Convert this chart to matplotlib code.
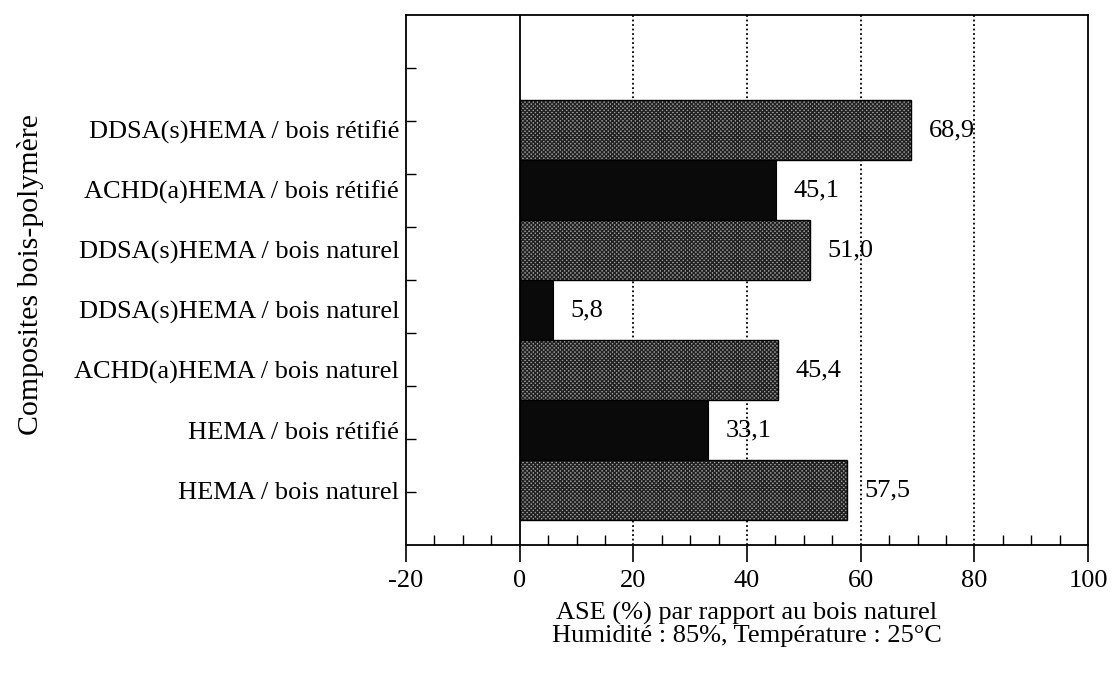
import matplotlib
matplotlib.use("Agg")
import matplotlib.pyplot as plt
import numpy as np

plt.rcParams["font.family"] = ["Liberation Serif", "DejaVu Serif"]
plt.rcParams["hatch.linewidth"] = 1.0

# data, bottom to top
labels = [
    "HEMA / bois naturel",
    "HEMA / bois rétifié",
    "ACHD(a)HEMA / bois naturel",
    "DDSA(s)HEMA / bois naturel",
    "DDSA(s)HEMA / bois naturel",
    "ACHD(a)HEMA / bois rétifié",
    "DDSA(s)HEMA / bois rétifié",
]
values = [57.5, 33.1, 45.4, 5.8, 51.0, 45.1, 68.9]
is_black = [False, True, False, True, False, True, False]

xlabel = "ASE (%) par rapport au bois naturel\nHumidité : 85%, Température : 25°C"
ylabel = "Composites bois-polymère"

fig = plt.figure(figsize=(11.16, 6.79), dpi=100)
ax = fig.add_axes([0.3638, 0.197, 0.975 - 0.3638, 0.978 - 0.197])

pos = np.arange(len(values))
ylo, yhi = -0.917, 7.917

# gridlines behind bars
for gx in [20, 40, 60, 80]:
    ax.axvline(gx, color="black", lw=1.3, ls=(0, (1, 1.5)), zorder=0)
ax.axvline(0, color="black", lw=1.3, zorder=1)

for p, v, blk in zip(pos, values, is_black):
    if blk:
        ax.barh(p, v, height=1.0, color="#0a0a0a", edgecolor="black", lw=0.8, zorder=2)
    else:
        ax.barh(p, v, height=1.0, color="#a0a0a0", edgecolor="#202020", lw=0,
                hatch="xxxxxxxx", zorder=2)
        ax.barh(p, v, height=1.0, fill=False, edgecolor="black", lw=1.0, zorder=3)
    ax.text(v + 3.1, p, f"{v:.1f}".replace(".", ","), va="center", ha="left",
            fontsize=19, zorder=4)

ax.set_xlim(-20, 100)
ax.set_ylim(ylo, yhi)

ax.set_xticks(np.arange(-20, 101, 20))
ax.set_xticks([x for x in np.arange(-20, 101, 5) if x % 20], minor=True)
ax.tick_params(axis="x", which="major", direction="out", length=12, width=1.2,
               labelsize=19, pad=6)
ax.tick_params(axis="x", which="minor", direction="in", length=7, width=1.0)
ax.set_xticklabels([str(x) for x in range(-20, 101, 20)])

ax.set_yticks(pos)
ax.set_yticklabels(labels)
ax.set_yticks(np.linspace(ylo, yhi, 11)[1:-1], minor=True)
ax.tick_params(axis="y", which="major", length=0, labelsize=19, pad=5)
ax.tick_params(axis="y", which="minor", direction="in", length=7, width=1.0)

for s in ax.spines.values():
    s.set_linewidth(1.3)

ax.set_xlabel(xlabel, fontsize=19, labelpad=7, linespacing=0.98)
fig.text(0.027, 0.595, ylabel, rotation=90, fontsize=21.5, ha="center", va="center")

fig.savefig("out.png", dpi=100)
